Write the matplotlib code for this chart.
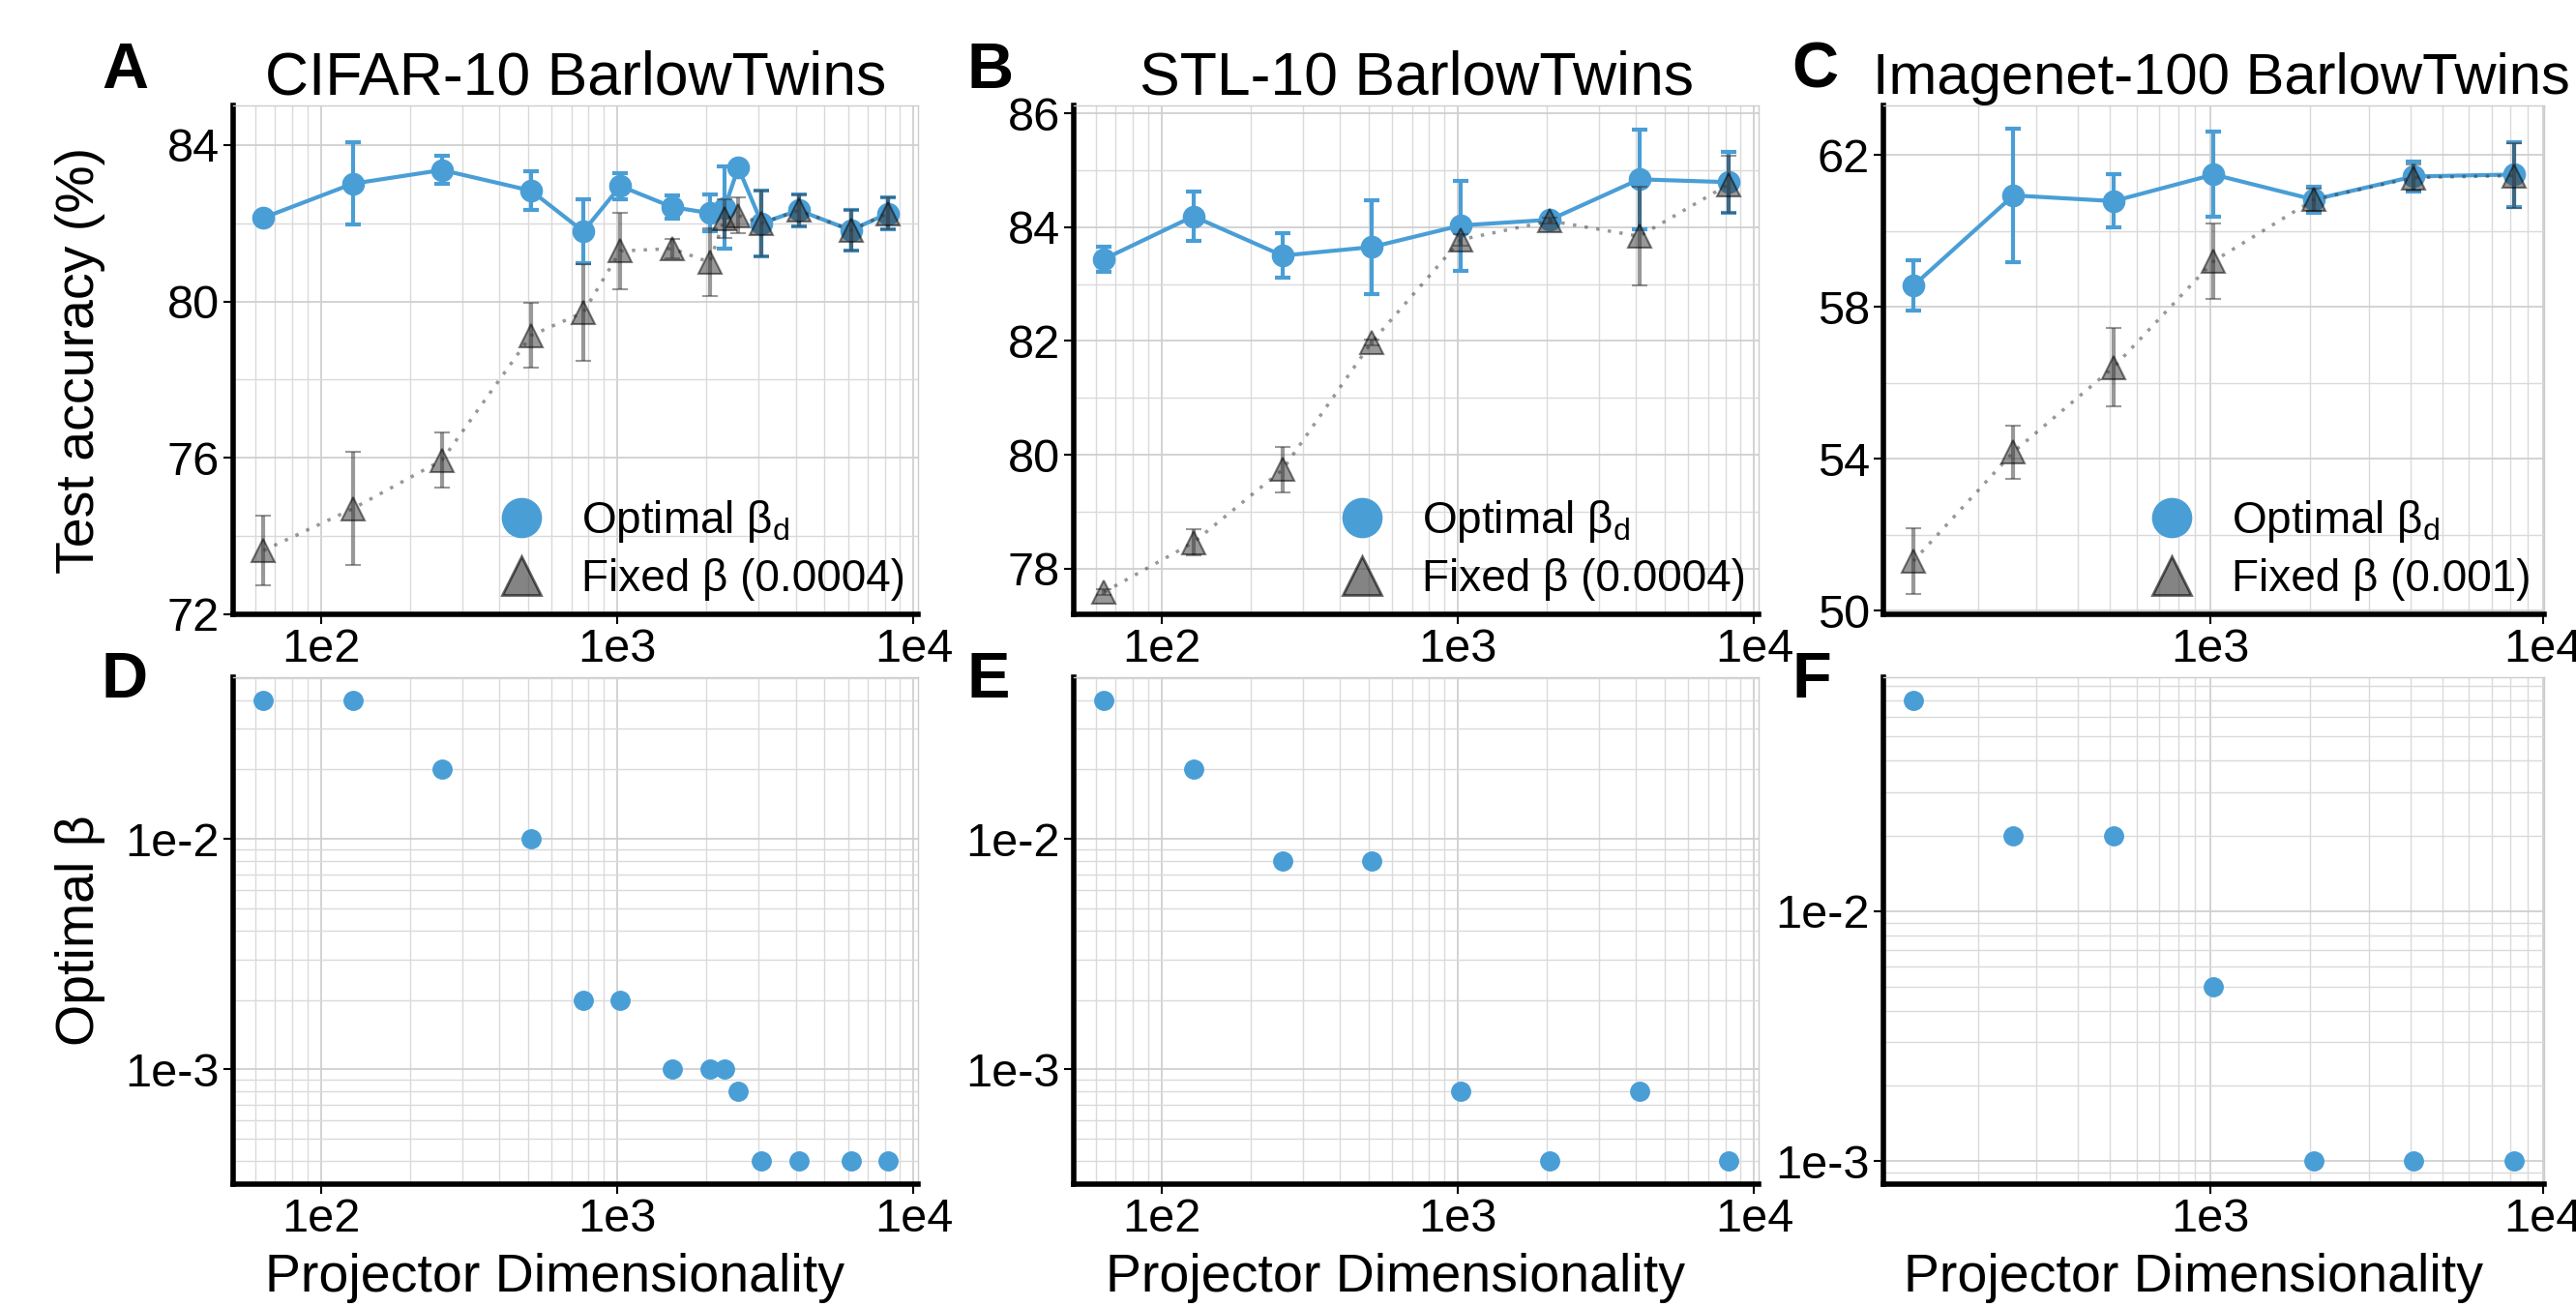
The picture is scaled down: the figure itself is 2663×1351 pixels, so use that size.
import numpy as np
import matplotlib
matplotlib.use("Agg")
import matplotlib.pyplot as plt
from matplotlib.ticker import FixedLocator, FixedFormatter, LogLocator, NullFormatter
from matplotlib.lines import Line2D

plt.rcParams['font.family'] = ['Liberation Sans', 'DejaVu Sans']

# ---- data ----
dims_a = [64, 128, 256, 512, 768, 1024, 1536, 2048, 2304, 2560, 3072, 4096, 6144, 8192]
opt_a = [82.14, 83.01, 83.36, 82.83, 81.79, 82.95, 82.41, 82.26, 82.40, 83.42, 82.00, 82.33, 81.82, 82.25]
opt_a_err = [0.12, 1.05, 0.36, 0.50, 0.82, 0.33, 0.29, 0.47, 1.05, 0.05, 0.84, 0.41, 0.51, 0.40]
fix_a = [73.63, 74.70, 75.94, 79.13, 79.72, 81.29, 81.35, 81.00, 82.12, 82.20, 82.00, 82.33, 81.82, 82.25]
fix_a_err = [0.90, 1.45, 0.70, 0.83, 1.23, 0.97, 0.25, 0.87, 0.50, 0.46, 0.84, 0.41, 0.51, 0.40]
beta_a = [0.04, 0.04, 0.02, 0.01, 0.002, 0.002, 0.001, 0.001, 0.001, 0.0008, 0.0004, 0.0004, 0.0004, 0.0004]

dims_b = [64, 128, 256, 512, 1024, 2048, 4096, 8192]
opt_b = [83.44, 84.19, 83.50, 83.65, 84.03, 84.13, 84.84, 84.79]
opt_b_err = [0.22, 0.43, 0.39, 0.82, 0.79, 0.05, 0.88, 0.54]
fix_b = [77.59, 78.46, 79.74, 81.98, 83.78, 84.11, 83.84, 84.75]
fix_b_err = [0.05, 0.23, 0.40, 0.05, 0.10, 0.05, 0.87, 0.50]
beta_b = [0.04, 0.02, 0.008, 0.008, 0.0008, 0.0004, 0.0008, 0.0004]

dims_c = [128, 256, 512, 1024, 2048, 4096, 8192]
opt_c = [58.56, 60.94, 60.79, 61.49, 60.83, 61.44, 61.49]
opt_c_err = [0.66, 1.77, 0.70, 1.12, 0.34, 0.39, 0.85]
fix_c = [51.30, 54.18, 56.41, 59.21, 60.83, 61.41, 61.46]
fix_c_err = [0.87, 0.70, 1.04, 1.00, 0.30, 0.35, 0.85]
beta_c = [0.07, 0.02, 0.02, 0.005, 0.001, 0.001, 0.001]

titles = ["CIFAR-10 BarlowTwins", "STL-10 BarlowTwins", "Imagenet-100 BarlowTwins"]
fixed_labels = ["Fixed β (0.0004)", "Fixed β (0.0004)", "Fixed β (0.001)"]
letters_top = ["A", "B", "C"]
letters_bot = ["D", "E", "F"]

BLUE = "#4A9ED6"
GRID = "#DADADA"

fig = plt.figure(figsize=(26.63, 13.51), dpi=100)

lefts = [0.0905, 0.4168, 0.7311]
widths = [0.266, 0.266, 0.2565]

top_axes = [fig.add_axes([lefts[i], 0.530, widths[i], 0.389]) for i in range(3)]
bot_axes = [fig.add_axes([lefts[i], 0.094, widths[i], 0.388]) for i in range(3)]

acc = [(dims_a, opt_a, opt_a_err, fix_a, fix_a_err),
       (dims_b, opt_b, opt_b_err, fix_b, fix_b_err),
       (dims_c, opt_c, opt_c_err, fix_c, fix_c_err)]
betas = [(dims_a, beta_a), (dims_b, beta_b), (dims_c, beta_c)]

xlims = [(10 ** 1.7035, 10 ** 4.016), (10 ** 1.7035, 10 ** 4.016), (10 ** 2.017, 10 ** 4.0035)]
ylims_top = [(72.0, 85.0), (77.2, 86.13), (49.9, 63.3)]
yticks_top = [[72, 76, 80, 84], [78, 80, 82, 84, 86], [50, 54, 58, 62]]
yminor_top = [[74, 78, 82], [77, 79, 81, 83, 85], [52, 56, 60]]
ylims_bot = [(10 ** -3.498, 10 ** -1.298), (10 ** -3.498, 10 ** -1.298), (10 ** -3.092, 10 ** -1.063)]
xtick_vals = [[100, 1000, 10000], [100, 1000, 10000], [1000, 10000]]
xtick_labs = [["1e2", "1e3", "1e4"], ["1e2", "1e3", "1e4"], ["1e3", "1e4"]]


def style(ax):
    ax.set_xscale("log")
    ax.set_facecolor("white")
    for s in ["top", "right"]:
        ax.spines[s].set_color("#CCCCCC")
        ax.spines[s].set_linewidth(1.0)
    for s in ["left", "bottom"]:
        ax.spines[s].set_color("black")
        ax.spines[s].set_linewidth(4.0)
    ax.tick_params(which="major", length=7, width=1.5, color="black",
                   labelsize=35, pad=3)
    ax.tick_params(which="minor", length=0)
    ax.grid(True, which="major", color="#D0D0D0", linewidth=1.3)
    ax.grid(True, which="minor", color=GRID, linewidth=1.0)
    ax.set_axisbelow(True)


for i, ax in enumerate(top_axes):
    d, o, oe, f, fe = acc[i]
    style(ax)
    ax.errorbar(d, o, yerr=oe, color=BLUE, lw=3, marker="o", ms=16,
                capsize=6, capthick=3, elinewidth=3, zorder=3)
    ax.errorbar(d, f, yerr=fe, color="#333333", alpha=0.5, lw=2.5, ls=(0, (1, 2.5)),
                marker="^", ms=17, mec="black", mew=1.5, capsize=6, capthick=3,
                elinewidth=3, zorder=4)
    ax.set_xlim(*xlims[i])
    ax.set_ylim(*ylims_top[i])
    ax.yaxis.set_major_locator(FixedLocator(yticks_top[i]))
    ax.yaxis.set_minor_locator(FixedLocator(yminor_top[i]))
    ax.xaxis.set_major_locator(FixedLocator(xtick_vals[i]))
    ax.xaxis.set_major_formatter(FixedFormatter(xtick_labs[i]))
    ax.xaxis.set_minor_locator(LogLocator(base=10, subs=np.arange(2, 10)))
    ax.xaxis.set_minor_formatter(NullFormatter())
    handles = [Line2D([], [], ls="none", marker="o", ms=29, color=BLUE),
               Line2D([], [], ls="none", marker="^", ms=29, color="#333333",
                      alpha=0.6, mec="black", mew=2)]
    ax.legend(handles, ["Optimal β$_\\mathregular{d}$", fixed_labels[i]],
              loc="lower right", frameon=False, fontsize=33,
              handletextpad=0.35, labelspacing=0.3, borderpad=0.1,
              borderaxespad=0.2)

title_x = [0.2235, 0.5498, 0.8622]
title_size = [45, 45, 43]
for i in range(3):
    fig.text(title_x[i], 0.928, titles[i], ha="center", va="baseline",
             fontsize=title_size[i])

for i, ax in enumerate(bot_axes):
    d, b = betas[i]
    style(ax)
    ax.set_yscale("log")
    ax.plot(d, b, ls="none", marker="o", ms=14, color=BLUE, zorder=3)
    ax.set_xlim(*xlims[i])
    ax.set_ylim(*ylims_bot[i])
    ax.xaxis.set_major_locator(FixedLocator(xtick_vals[i]))
    ax.xaxis.set_major_formatter(FixedFormatter(xtick_labs[i]))
    ax.xaxis.set_minor_locator(LogLocator(base=10, subs=np.arange(2, 10)))
    ax.xaxis.set_minor_formatter(NullFormatter())
    ax.yaxis.set_major_locator(FixedLocator([0.001, 0.01]))
    ax.yaxis.set_major_formatter(FixedFormatter(["1e-3", "1e-2"]))
    ax.yaxis.set_minor_locator(LogLocator(base=10, subs=np.arange(2, 10)))
    ax.yaxis.set_minor_formatter(NullFormatter())
    ax.set_xlabel("Projector Dimensionality", fontsize=40)
    ax.xaxis.set_label_coords(0.47, -0.135)

top_axes[0].set_ylabel("Test accuracy (%)", fontsize=40)
top_axes[0].yaxis.set_label_coords(-0.186, 0.5)
bot_axes[0].set_ylabel("Optimal β", fontsize=40)
bot_axes[0].yaxis.set_label_coords(-0.186, 0.5)

letter_x = [0.0394, 0.3755, 0.6955]
for i in range(3):
    fig.text(letter_x[i], 0.933, letters_top[i], fontsize=48, fontweight="bold", va="baseline")
    fig.text(letter_x[i], 0.466, letters_bot[i], fontsize=48, fontweight="bold", va="baseline")

fig.savefig("out.png", dpi=100, facecolor="white")
